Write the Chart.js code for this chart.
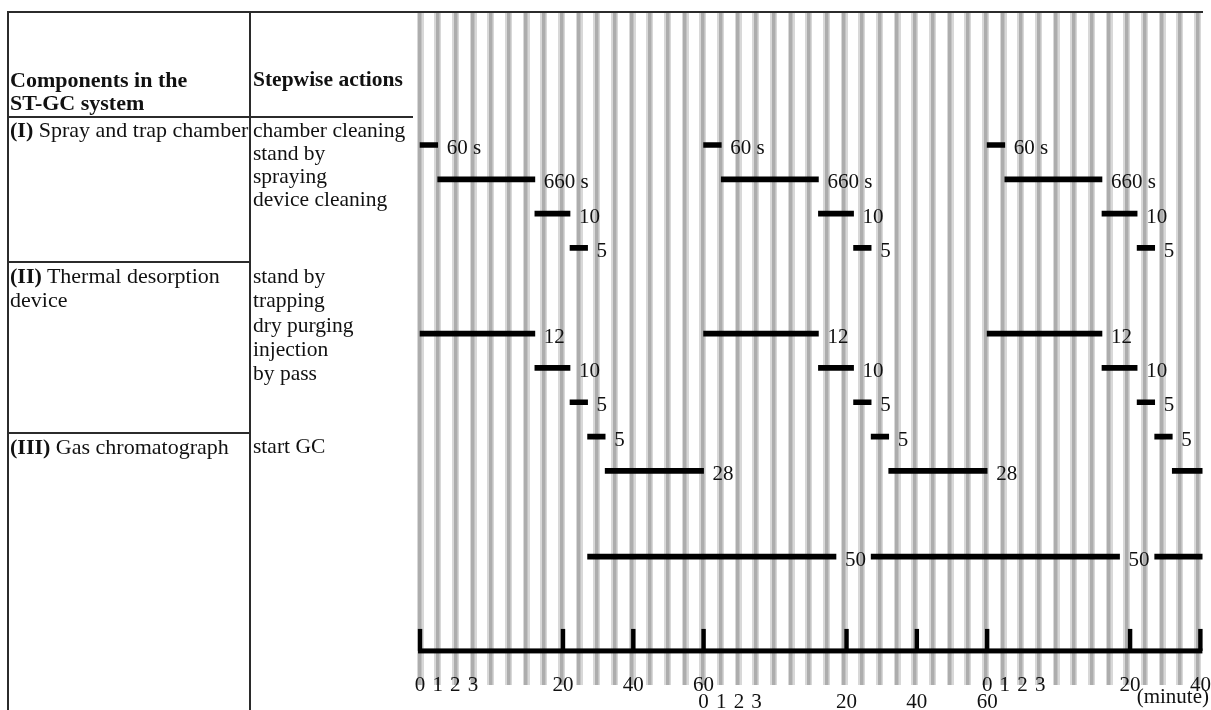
<!DOCTYPE html>
<html>
<head>
<meta charset="utf-8">
<title>ST-GC operating sequence</title>
<script src="https://cdn.jsdelivr.net/npm/chart.js@4.4.1/dist/chart.umd.min.js"></script>
<style>
  html, body { margin: 0; padding: 0; background: #fff; }
  #wrap {
    position: relative; width: 1211px; height: 710px; overflow: hidden;
    font-family: "Liberation Serif", "Times New Roman", serif; font-size: 21.5px; color: #111;
  }
  #c { position: absolute; left: 0; top: 0; }
  .rule { position: absolute; background: #2b2b2b; }
  .cell { position: absolute; white-space: nowrap; line-height: 23px; }
  .cell.c1 { font-size: 22px; }
  .cell.g2 { line-height: 24.3px; }
  b { font-weight: bold; }
</style>
</head>
<body>
<div id="wrap">
  <canvas id="c" width="1211" height="710"></canvas>

  <!-- table rules -->
  <div class="rule" style="left:7px;top:11px;width:1196px;height:2px"></div>
  <div class="rule" style="left:7px;top:11px;width:2px;height:699px"></div>
  <div class="rule" style="left:249px;top:11px;width:2px;height:699px"></div>
  <div class="rule" style="left:7px;top:116px;width:406px;height:2px"></div>
  <div class="rule" style="left:7px;top:261px;width:243px;height:2px"></div>
  <div class="rule" style="left:7px;top:432px;width:243px;height:2px"></div>

  <!-- table text -->
  <div class="cell c1" style="left:10px;top:68px"><b>Components in the<br>ST-GC system</b></div>
  <div class="cell" style="left:253px;top:68px"><b>Stepwise actions</b></div>

  <div class="cell c1" style="left:10px;top:118px"><b>(I)</b> Spray and trap chamber</div>
  <div class="cell" style="left:253px;top:119px">chamber cleaning<br>stand by<br>spraying<br>device cleaning</div>

  <div class="cell c1 g2" style="left:10px;top:264px"><b>(II)</b> Thermal desorption<br>device</div>
  <div class="cell g2" style="left:253px;top:264px">stand by<br>trapping<br>dry purging<br>injection<br>by pass</div>

  <div class="cell c1" style="left:10px;top:435px"><b>(III)</b> Gas chromatograph</div>
  <div class="cell" style="left:253px;top:435px">start GC</div>
</div>

<script>
// ---- Schedule of one 60-minute cycle (minutes from the start of the cycle) ----
const steps       = ['chamber cleaning', 'stand by', 'spraying', 'device cleaning',
                     'TD stand by', 'trapping', 'dry purging', 'injection', 'by pass',
                     'GC run'];
const stepStart   = [0, 1, 12, 22,   0, 12, 22, 27, 32,   27];
const stepMinutes = [1, 11, 10, 5,   12, 10, 5, 5, 28,    50];
const stepLabels  = ['60 s', '660 s', '10', '5',   '12', '10', '5', '5', '28',   '50'];

// Cycles shown on the time line (minutes)
const cycleStarts = [0, 60, 120];
const axisEnd = 160;

// Axis labels within each cycle, and the long tick marks (minutes)
const cycleTickLabels = ['0', '1', '2', '3', '20', '40', '60'];
const majorTicks = [0, 20, 40, 60, 80, 100, 120, 140, 160];

// ---- Layout ----
// Each action gets its own lane (in half-row units); the time line sits below them.
const LANES = [0, 2, 4, 6,   11, 13, 15, 17, 19,   24];
const AXIS_LANE = 29.5;

// The first minutes of every cycle are stretched on the time line:
// piecewise-linear map from minutes-in-cycle to stripe positions.
const CYCLE = 60;
const KNOT_MIN = [0, 3, 12, 60];
const KNOT_POS = [0, 3, 6.5, 16.05];
const POS_MIN = -0.2, POS_MAX = 44.29;

function minuteToPos(v) {
  const span = KNOT_POS[KNOT_POS.length - 1];
  const c = Math.floor(v / CYCLE);
  const m = v - c * CYCLE;
  for (let i = 1; i < KNOT_MIN.length; i++) {
    if (m <= KNOT_MIN[i]) {
      const t = (m - KNOT_MIN[i - 1]) / (KNOT_MIN[i] - KNOT_MIN[i - 1]);
      return c * span + KNOT_POS[i - 1] + t * (KNOT_POS[i] - KNOT_POS[i - 1]);
    }
  }
  return (c + 1) * span;
}
function posToMinute(p) {
  const span = KNOT_POS[KNOT_POS.length - 1];
  const c = Math.floor(p / span);
  const q = p - c * span;
  for (let i = 1; i < KNOT_POS.length; i++) {
    if (q <= KNOT_POS[i]) {
      const t = (q - KNOT_POS[i - 1]) / (KNOT_POS[i] - KNOT_POS[i - 1]);
      return c * CYCLE + KNOT_MIN[i - 1] + t * (KNOT_MIN[i] - KNOT_MIN[i - 1]);
    }
  }
  return (c + 1) * CYCLE;
}

class CycleTimeScale extends Chart.LinearScale {
  getPixelForValue(value) {
    return this.getPixelForDecimal((minuteToPos(value) - POS_MIN) / (POS_MAX - POS_MIN));
  }
  getValueForPixel(pixel) {
    return posToMinute(POS_MIN + this.getDecimalForPixel(pixel) * (POS_MAX - POS_MIN));
  }
}
CycleTimeScale.id = 'cycleTime';
CycleTimeScale.defaults = Chart.LinearScale.defaults;
Chart.register(CycleTimeScale);

// One floating bar per action and cycle
const bars = [];
cycleStarts.forEach(c0 => {
  steps.forEach((name, i) => {
    const s = c0 + stepStart[i];
    bars.push({ x: [s, s + stepMinutes[i]], y: LANES[i], text: stepLabels[i], step: name });
  });
});

const SERIF = '"Liberation Serif", "Times New Roman", serif';

// Duration written just after the end of each bar
const durationLabels = {
  id: 'durationLabels',
  afterDatasetsDraw(chart) {
    const { ctx, scales: { x, y } } = chart;
    ctx.save();
    ctx.font = '21px ' + SERIF;
    ctx.fillStyle = '#111';
    ctx.textAlign = 'left';
    ctx.textBaseline = 'middle';
    chart.data.datasets[0].data.forEach(d => {
      if (d.x[1] > axisEnd) return;
      ctx.fillText(d.text, x.getPixelForValue(d.x[1]) + 9, y.getPixelForValue(d.y) + 3.5);
    });
    ctx.restore();
  }
};

// Time line with long ticks and two staggered rows of minute labels
const timeLine = {
  id: 'timeLine',
  afterDatasetsDraw(chart) {
    const { ctx, chartArea, scales: { x, y } } = chart;
    const ay = y.getPixelForValue(AXIS_LANE);
    ctx.save();
    ctx.fillStyle = '#000';
    const x0 = x.getPixelForValue(0), x1 = x.getPixelForValue(axisEnd);
    ctx.fillRect(x0 - 2, ay - 2.5, x1 - x0 + 4, 5);
    majorTicks.forEach(v => {
      const px = x.getPixelForValue(v);
      ctx.fillRect(px - 2.2, ay - 22, 4.4, 22);
    });

    ctx.font = '21px ' + SERIF;
    ctx.fillStyle = '#111';
    ctx.textAlign = 'center';
    ctx.textBaseline = 'alphabetic';
    const rowBase = [chartArea.bottom + 6, chartArea.bottom + 23];
    cycleStarts.forEach((c0, ci) => {
      cycleTickLabels.forEach(t => {
        const v = c0 + Number(t);
        if (v > axisEnd) return;
        ctx.fillText(t, x.getPixelForValue(v), rowBase[ci % 2]);
      });
    });
    ctx.textAlign = 'right';
    ctx.fillText('(minute)', chart.width - 2, chartArea.bottom + 18);
    ctx.restore();
  }
};

const stripeAxis = (width, color) => ({
  type: 'linear', axis: 'x', position: 'bottom', offset: false,
  min: POS_MIN, max: POS_MAX,
  ticks: { display: false, stepSize: 1, includeBounds: false, maxTicksLimit: 100 },
  grid: { color: color, lineWidth: width, drawTicks: false, offset: false },
  border: { display: false }
});

new Chart(document.getElementById('c'), {
  type: 'bar',
  data: {
    datasets: [{
      data: bars,
      backgroundColor: '#000',
      borderWidth: 0,
      barThickness: 5,
      grouped: false,
      clip: 0
    }]
  },
  options: {
    indexAxis: 'y',
    responsive: false,
    animation: false,
    devicePixelRatio: 1,
    events: [],
    layout: { padding: { left: 416.5, right: 8.5, top: 13, bottom: 25 } },
    scales: {
      x: { type: 'cycleTime', min: 0, max: axisEnd, display: false, offset: false },
      y: { type: 'linear', reverse: true, min: -7.697, max: 31.487, display: false,
           offset: false, grid: { offset: false } },
      stripeWide: stripeAxis(7, '#d8d8d8'),
      stripeCore: stripeAxis(3.5, '#adadad')
    },
    plugins: { legend: { display: false }, tooltip: { enabled: false } }
  },
  plugins: [durationLabels, timeLine]
});
</script>
</body>
</html>
